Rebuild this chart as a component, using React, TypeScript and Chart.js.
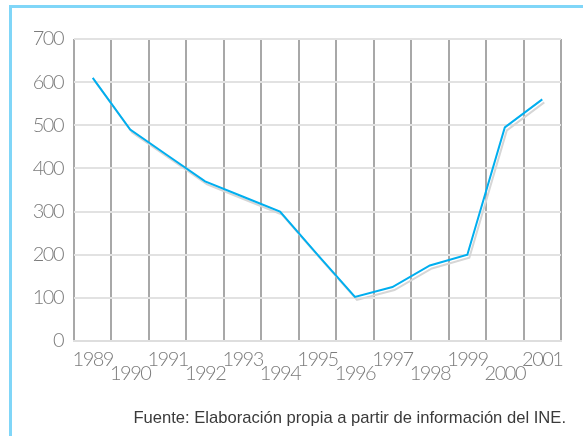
import React, { useEffect, useRef } from "react";
import { Chart, registerables } from "chart.js";

Chart.register(...registerables);

const years = ["1989", "1990", "1991", "1992", "1993", "1994", "1995", "1996", "1997", "1998", "1999", "2000", "2001"];
const values = [610, 490, 430, 370, 335, 300, 200, 102, 125, 175, 200, 495, 560];
const yTicks = [0, 100, 200, 300, 400, 500, 600, 700];
const footer = "Fuente: Elaboración propia a partir de información del INE.";

const shadowPlugin = {
  id: "lineShadow",
  beforeDatasetDraw(chart: any) {
    const ctx = chart.ctx;
    ctx.save();
    ctx.shadowColor = "#d6d6d6";
    ctx.shadowBlur = 0;
    ctx.shadowOffsetX = 2;
    ctx.shadowOffsetY = 3;
  },
  afterDatasetDraw(chart: any) {
    chart.ctx.restore();
  },
};

const spacingPlugin = {
  id: "narrowText",
  beforeInit(chart: any) {
    chart.ctx.letterSpacing = "-1.5px";
  },
  beforeDraw(chart: any) {
    chart.ctx.letterSpacing = "-1.5px";
  },
};

const tickFont = { family: "Lato, 'Liberation Sans', sans-serif", size: 20, weight: "300" as any };

export default function App() {
  const ref = useRef<HTMLCanvasElement | null>(null);

  useEffect(() => {
    if (!ref.current) return;
    const labels = years.map((y, i) => (i % 2 === 0 ? [y] : ["", y]));
    const chart = new Chart(ref.current, {
      type: "line",
      data: {
        labels,
        datasets: [
          {
            data: values,
            borderColor: "#00aeef",
            borderWidth: 2,
            pointRadius: 0,
            tension: 0,
            fill: false,
          },
        ],
      },
      plugins: [spacingPlugin, shadowPlugin],
      options: {
        animation: false,
        responsive: false,
        maintainAspectRatio: false,
        layout: { padding: { left: 14, top: 39, right: 22, bottom: 0 } },
        plugins: { legend: { display: false }, tooltip: { enabled: false } },
        scales: {
          x: {
            offset: true,
            grid: { offset: true, color: "#a8a8a8", lineWidth: 2, drawTicks: false },
            border: { display: true, color: "#dedede", width: 2 },
            ticks: {
              color: "#7c7c7c",
              padding: 11,
              maxRotation: 0,
              autoSkip: false,
              font: { ...tickFont, lineHeight: 0.72 },
            },
            afterFit: (s: any) => {
              s.height = 95;
            },
          },
          y: {
            min: 0,
            max: 700,
            afterBuildTicks: (s: any) => {
              s.ticks = yTicks.map((v) => ({ value: v }));
            },
            grid: { color: "#e2e2e2", lineWidth: 2, drawTicks: false },
            border: { display: false },
            ticks: {
              color: "#7c7c7c",
              padding: 11,
              font: tickFont,
            },
            afterFit: (s: any) => {
              s.width = 60;
            },
          },
        },
      },
    });
    return () => chart.destroy();
  }, []);

  return (
    <div style={{ position: "fixed", left: 0, top: 0, width: 583, height: 436, background: "#fff", overflow: "hidden" }}>
      <canvas ref={ref} width={583} height={436} style={{ position: "absolute", left: 0, top: 0 }} />
      <div
        style={{
          position: "absolute",
          left: 9,
          top: 5,
          width: 583,
          height: 440,
          borderTop: "3px solid #80d6f8",
          borderLeft: "3px solid #80d6f8",
          pointerEvents: "none",
        }}
      />
      <div
        style={{
          position: "absolute",
          right: 17,
          top: 408,
          fontFamily: "'Liberation Sans', Arial, sans-serif",
          fontSize: 16.6,
          color: "#3a3a3a",
          whiteSpace: "nowrap",
        }}
      >
        {footer}
      </div>
    </div>
  );
}
